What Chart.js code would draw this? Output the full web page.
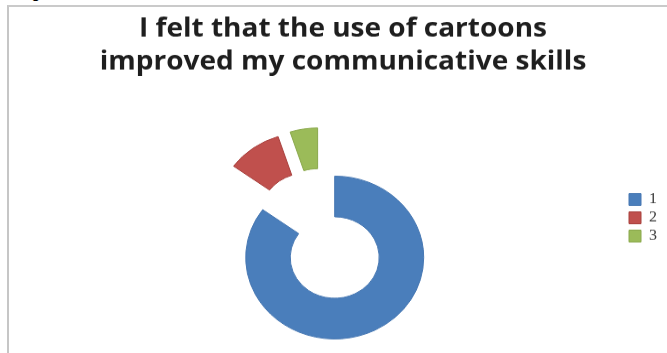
<!DOCTYPE html>
<html><head><meta charset="utf-8">
<script src="https://cdn.jsdelivr.net/npm/chart.js@4"></script>
<style>
html,body{margin:0;padding:0;background:#fff;overflow:hidden}
#wrap{position:relative;width:667px;height:353px;overflow:hidden}
#frame{position:absolute;left:7px;top:5px;width:700px;height:400px;border-left:2px solid #c6c6c6;border-top:2px solid #cacaca}
#cap{position:absolute;left:18px;top:-15px;font:16px "Liberation Sans",Arial,sans-serif;line-height:16px;color:#000;white-space:nowrap}
#c{position:absolute;left:0;top:0;transform:scaleY(0.915);transform-origin:0 0}
</style></head><body>
<div id="wrap"><div id="cap">Figure 5</div><div id="frame"></div><canvas id="c" width="667" height="386"></canvas></div>
<script>
const categories = ['1', '2', '3'];
const values = [85, 10, 5];
const titleLines = ['I felt that the use of cartoons', 'improved my communicative skills'];

const sliceColors = ['#4A7EBB', '#C0504D', '#9BBB59'];
const sliceBorders = ['#4677B2', '#A8403D', '#8AA84C'];

// exploded doughnut: every slice is pulled outward along its middle angle
const explodeSlices = {
  id: 'explodeSlices',
  afterDatasetsUpdate(chart, args, opts) {
    const meta = chart.getDatasetMeta(0);
    meta.data.forEach((arc, i) => {
      const d = (opts.explode || [])[i] || 0;
      if (!d) return;
      const mid = (arc.startAngle + arc.endAngle) / 2;
      arc.x += Math.cos(mid) * d;
      arc.y += Math.sin(mid) * d;
    });
  }
};

new Chart(document.getElementById('c'), {
  type: 'doughnut',
  data: {
    labels: categories,
    datasets: [{
      data: values,
      backgroundColor: sliceColors,
      borderColor: sliceBorders,
      borderWidth: 1
    }]
  },
  options: {
    responsive: false,
    animation: false,
    events: [],
    radius: 89,
    cutout: '50%',
    rotation: 0,
    layout: { padding: { left: 19, right: 0, top: 0, bottom: -90 } },
    plugins: {
      explodeSlices: { explode: [28, 28, 28] },
      tooltip: { enabled: false },
      title: {
        display: true,
        text: titleLines,
        fullSize: true,
        color: '#1e1e1e',
        font: { family: "'Open Sans', sans-serif", size: 28, weight: 'bold', lineHeight: 1.296 },
        padding: { top: 14, bottom: 40.4 }
      },
      legend: {
        position: 'right',
        fullSize: true,
        align: 'center',
        labels: {
          boxWidth: 12,
          boxHeight: 13,
          padding: 4,
          color: '#383838',
          font: { family: "'Liberation Serif', serif", size: 16 }
        }
      }
    }
  },
  plugins: [explodeSlices]
});
</script>
</body></html>
